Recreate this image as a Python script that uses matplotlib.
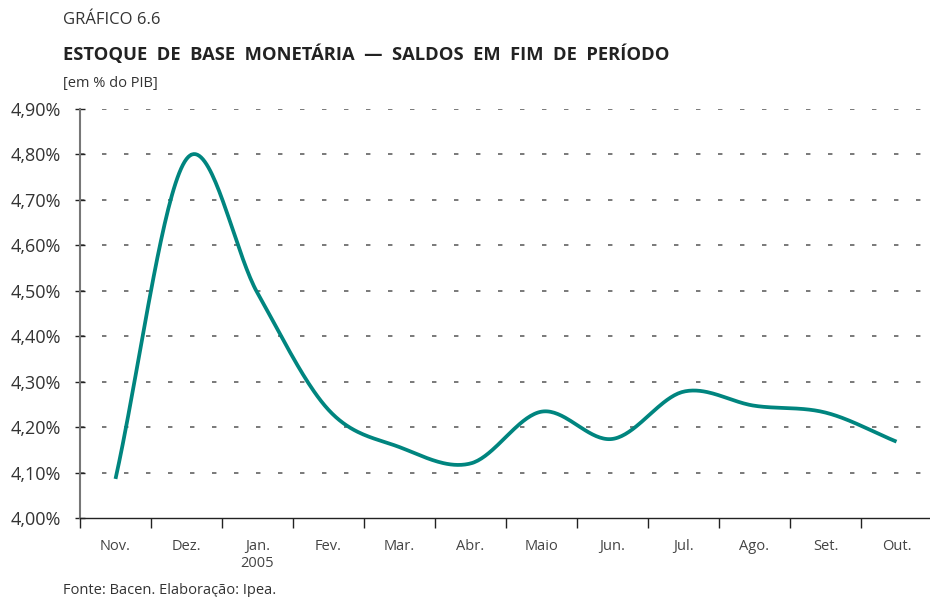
import numpy as np
import matplotlib
matplotlib.use("Agg")
import matplotlib.pyplot as plt
from matplotlib.ticker import FuncFormatter

# data (% of GDP, end of period)
months = ['Nov.', 'Dez.', 'Jan.\n2005', 'Fev.', 'Mar.', 'Abr.', 'Maio',
          'Jun.', 'Jul.', 'Ago.', 'Set.', 'Out.']
values = [4.086, 4.79, 4.495, 4.238, 4.156, 4.12, 4.234,
          4.174, 4.278, 4.247, 4.232, 4.168]
yticks = [4.0, 4.1, 4.2, 4.3, 4.4, 4.5, 4.6, 4.7, 4.8, 4.9]


def smooth(x, y, n=40):
    # Catmull-Rom spline through the points (like spreadsheet "smoothed line")
    x = np.asarray(x, float)
    y = np.asarray(y, float)
    px = np.concatenate([[2 * x[0] - x[1]], x, [2 * x[-1] - x[-2]]])
    py = np.concatenate([[2 * y[0] - y[1]], y, [2 * y[-1] - y[-2]]])
    xs, ys = [], []
    t = np.linspace(0, 1, n)
    for i in range(1, len(px) - 2):
        for p, out in ((px, xs), (py, ys)):
            p0, p1, p2, p3 = p[i - 1], p[i], p[i + 1], p[i + 2]
            m1 = (p2 - p0) / 2
            m2 = (p3 - p1) / 2
            h00 = 2 * t**3 - 3 * t**2 + 1
            h10 = t**3 - 2 * t**2 + t
            h01 = -2 * t**3 + 3 * t**2
            h11 = t**3 - t**2
            out.append(h00 * p1 + h10 * m1 + h01 * p2 + h11 * m2)
    return np.concatenate(xs), np.concatenate(ys)


plt.rcParams['font.family'] = ['Open Sans', 'DejaVu Sans']

fig = plt.figure(figsize=(9.3, 5.97), dpi=100)
ax = fig.add_axes([80 / 930, 1 - 518 / 597, 852 / 930, 409 / 597])

x = np.arange(len(months))
sx, sy = smooth(x, values)
ax.plot(sx, sy, color='#00857f', linewidth=2.7, solid_capstyle='butt', zorder=3)

ax.set_xlim(-0.5, len(months) - 0.5)
ax.set_ylim(4.0, 4.9)
ax.set_yticks(yticks)
ax.yaxis.set_major_formatter(FuncFormatter(lambda v, p: f'{v:.2f}'.replace('.', ',') + '%'))
for yv in yticks[1:]:
    ax.axhline(yv, color='#555555', linewidth=1.1, linestyle=(0, (2.9, 11.5)), zorder=1)

ax.set_xticks(x)
ax.set_xticklabels(months, fontsize=10.5, color='#444444')
ax.set_xticks(np.arange(-0.5, len(months) - 0.5, 1), minor=True)
ax.tick_params(axis='x', which='major', length=0, pad=15)
ax.tick_params(axis='x', which='minor', length=7, width=1, color='#222222', direction='out')
ax.tick_params(axis='y', length=7, width=1, direction='inout', color='#222222',
               labelsize=13, labelcolor='#333333', pad=10)

for s in ['top', 'right']:
    ax.spines[s].set_visible(False)
ax.spines['left'].set_color('#777777')
ax.spines['left'].set_linewidth(1.5)
ax.spines['bottom'].set_color('#222222')
ax.spines['bottom'].set_linewidth(1.0)

fig.text(63 / 930, 1 - 20 / 597, 'GRÁFICO 6.6', fontsize=12, color='#333333',
         va='center', ha='left')
fig.text(63 / 930, 1 - 54 / 597, 'ESTOQUE  DE  BASE  MONETÁRIA  —  SALDOS  EM  FIM  DE  PERÍODO',
         fontsize=13.2, fontweight='bold', color='#222222', va='center', ha='left')
fig.text(63 / 930, 1 - 83 / 597, '[em % do PIB]', fontsize=10.5, color='#333333',
         va='center', ha='left')
fig.text(63 / 930, 1 - 590 / 597, 'Fonte: Bacen. Elaboração: Ipea.', fontsize=10.5,
         color='#333333', va='center', ha='left')

fig.savefig('out.png', dpi=100)
